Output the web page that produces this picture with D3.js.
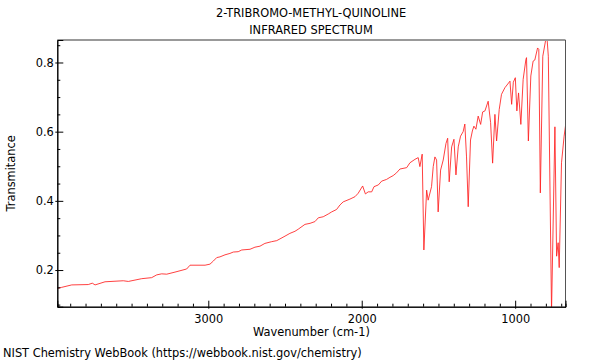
<!DOCTYPE html>
<html>
<head>
<meta charset="utf-8">
<script src="https://cdn.jsdelivr.net/npm/d3@7"></script>
<style>
  html, body { margin: 0; padding: 0; background: #fff; }
  svg { display: block; font-family: "DejaVu Sans", sans-serif; }
</style>
</head>
<body>
<svg id="chart" width="600" height="360"></svg>
<script>
const titleLines = ["2-TRIBROMO-METHYL-QUINOLINE", "INFRARED SPECTRUM"];
const xLabel = "Wavenumber (cm-1)";
const yLabel = "Transmitance";
const footer = "NIST Chemistry WebBook (https://webbook.nist.gov/chemistry)";

const xDomain = [3984, 672];
const yDomain = [0.094, 0.865];
const xMajorTicks = [3000, 2000, 1000];
const yMajorTicks = [0.2, 0.4, 0.6, 0.8];

const wavenumber = [3984,3955,3890,3782,3756,3738,3673,3554,3521,3434,3369,3336,3304,3271,3217,3141,3119,3021,2989,2967,2945,2924,2891,2859,2837,2805,2782,2728,2696,2663,2631,2587,2554,2533,2500,2468,2435,2414,2370,2337,2305,2283,2251,2218,2196,2164,2142,2121,2077,2044,2023,1994,1976,1958,1935,1920,1892,1870,1838,1816,1795,1773,1751,1707,1686,1653,1632,1621,1606,1595,1577,1567,1545,1534,1523,1512,1502,1486,1469,1451,1440,1430,1414,1399,1386,1371,1356,1339,1328,1317,1306,1291,1279,1269,1256,1241,1225,1212,1197,1176,1160,1147,1132,1121,1104,1089,1067,1034,1023,1012,999,989,978,963,948,930,926,914,898,883,872,854,846,836,820,802,792,784,763,748,741,730,720,713,698,681,665];
const transmittance = [0.147,0.150,0.157,0.158,0.162,0.157,0.166,0.169,0.167,0.175,0.178,0.186,0.189,0.188,0.194,0.203,0.214,0.214,0.217,0.226,0.236,0.238,0.244,0.248,0.252,0.253,0.258,0.260,0.266,0.269,0.277,0.282,0.285,0.290,0.298,0.306,0.312,0.318,0.332,0.335,0.340,0.351,0.354,0.362,0.368,0.375,0.388,0.397,0.405,0.412,0.422,0.443,0.420,0.426,0.426,0.441,0.446,0.457,0.462,0.468,0.473,0.481,0.492,0.496,0.510,0.520,0.525,0.499,0.535,0.258,0.431,0.402,0.441,0.499,0.527,0.518,0.368,0.489,0.518,0.566,0.581,0.455,0.556,0.578,0.475,0.556,0.587,0.600,0.622,0.527,0.383,0.576,0.602,0.616,0.607,0.645,0.621,0.657,0.660,0.688,0.626,0.509,0.650,0.573,0.664,0.708,0.727,0.746,0.679,0.743,0.756,0.660,0.712,0.621,0.751,0.809,0.814,0.573,0.761,0.804,0.807,0.842,0.838,0.423,0.818,0.863,0.868,0.818,0.080,0.443,0.614,0.240,0.279,0.207,0.510,0.587,0.640];

const FS = 11.4;
const svg = d3.select("#chart");
const m = { left: 57.3, right: 565.5, top: 40, bottom: 306.7 };

const x = d3.scaleLinear().domain(xDomain).range([m.left, m.right]);
const y = d3.scaleLinear().domain(yDomain).range([m.bottom, m.top]);

svg.append("clipPath").attr("id", "clip")
  .append("rect").attr("x", m.left).attr("y", m.top)
  .attr("width", m.right - m.left).attr("height", m.bottom - m.top);

const pts = wavenumber.map((w, i) => [w, transmittance[i]]);
svg.append("path")
  .datum(pts)
  .attr("clip-path", "url(#clip)")
  .attr("fill", "none")
  .attr("stroke", "#ff2020")
  .attr("stroke-opacity", 0.85)
  .attr("stroke-width", 1)
  .attr("stroke-linejoin", "round")
  .attr("d", d3.line().x(d => x(d[0])).y(d => y(d[1])));

// frame
svg.append("line").attr("x1", m.left).attr("x2", m.right).attr("y1", m.top).attr("y2", m.top)
  .attr("stroke", "#999").attr("stroke-width", 2);
svg.append("line").attr("x1", m.right).attr("x2", m.right).attr("y1", m.top).attr("y2", m.bottom)
  .attr("stroke", "#555").attr("stroke-width", 1);

// x axis
const xMinor = d3.range(700, 4000, 100).filter(v => v <= xDomain[0] && v >= xDomain[1] && !xMajorTicks.includes(v));
const xAxisMinor = d3.axisBottom(x).tickValues(xMinor).tickSize(-3).tickFormat("");
const xAxis = d3.axisBottom(x).tickValues(xMajorTicks).tickSize(-6).tickPadding(8.5).tickFormat(d3.format("d"));
const gxm = svg.append("g").attr("transform", `translate(0,${m.bottom})`).call(xAxisMinor);
const gx = svg.append("g").attr("transform", `translate(0,${m.bottom})`).call(xAxis);
gx.selectAll(".tick line").attr("y1", 2);
[gxm, gx].forEach(g => {
  g.select(".domain").attr("stroke", "#000");
  g.selectAll("line").attr("stroke", "#000");
});
gx.selectAll("text").attr("font-size", FS).attr("fill", "#000").attr("font-family", "DejaVu Sans");

// y axis
const yMinor = d3.range(0.1, 0.86, 0.05).map(v => +v.toFixed(2)).filter(v => !yMajorTicks.includes(v));
const yAxisMinor = d3.axisLeft(y).tickValues(yMinor).tickSize(-3).tickFormat("");
const yAxis = d3.axisLeft(y).tickValues(yMajorTicks).tickSize(-6).tickPadding(3.5).tickFormat(d3.format(".1f"));
const gym = svg.append("g").attr("transform", `translate(${m.left},0)`).call(yAxisMinor);
const gy = svg.append("g").attr("transform", `translate(${m.left},0)`).call(yAxis);
gy.selectAll(".tick line").attr("x1", -2);
[gym, gy].forEach(g => {
  g.select(".domain").attr("stroke", "#000");
  g.selectAll("line").attr("stroke", "#000");
});
gy.selectAll("text").attr("font-size", FS).attr("fill", "#000").attr("font-family", "DejaVu Sans");

// titles
svg.selectAll(".title").data(titleLines).enter().append("text")
  .attr("x", 311).attr("y", (d, i) => 17 + i * 17)
  .attr("text-anchor", "middle").attr("font-size", FS).attr("fill", "#000")
  .text(d => d);

svg.append("text").attr("x", (m.left + m.right) / 2).attr("y", 336)
  .attr("text-anchor", "middle").attr("font-size", FS).attr("fill", "#000").text(xLabel);

svg.append("text").attr("transform", `translate(15,${(m.top + m.bottom) / 2}) rotate(-90)`)
  .attr("text-anchor", "middle").attr("font-size", FS).attr("fill", "#000").text(yLabel);

svg.append("text").attr("x", 3).attr("y", 357)
  .attr("font-size", FS).attr("fill", "#000").text(footer);
</script>
</body>
</html>
